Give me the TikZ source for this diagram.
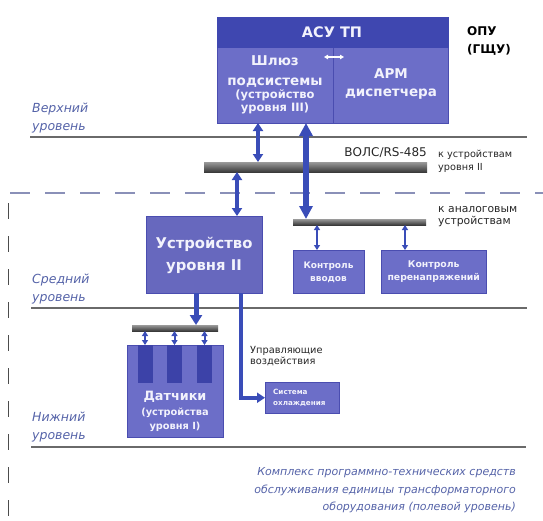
\documentclass[tikz,border=0pt]{standalone}
\usepackage{fontspec}
\setmainfont{DejaVu Sans}
\usetikzlibrary{arrows.meta,calc}
\definecolor{hdrc}{HTML}{3F47B0}
\definecolor{boxc}{HTML}{6C6EC8}
\definecolor{boxd}{HTML}{4A4DB0}
\definecolor{arrc}{HTML}{3A4DB8}
\definecolor{lblc}{HTML}{5563A8}
\definecolor{txtw}{HTML}{F2F2FC}
\definecolor{colc}{HTML}{3C42A8}
\definecolor{dashc}{HTML}{8A90B8}
\definecolor{barT}{HTML}{9A9A9A}
\definecolor{barB}{HTML}{3A3A3A}
\definecolor{linec}{HTML}{6A6A6A}
\begin{document}
\begin{tikzpicture}[x=1pt,y=-1pt,
  blk/.style={fill=boxc, draw=boxd, line width=0.8, inner sep=0, outer sep=0, anchor=north west},
  busbar/.style={top color=barT, bottom color=barB, draw=none, inner sep=0, outer sep=0, anchor=north west},
  colblk/.style={fill=colc, inner sep=0, outer sep=0, anchor=north west, minimum width=15, minimum height=38},
  wtxt/.style={text=txtw, font=\bfseries, align=center, inner sep=0},
  lvl/.style={text=lblc, align=left, anchor=west, inner sep=0, font=\itshape\fontsize{12.5}{18}\selectfont},
  blktxt/.style={text=black!85, align=left, anchor=west, inner sep=0},
  lvline/.style={draw=linec, line width=1.3},
  bigarr/.style={draw=arrc, line width=4, {Triangle[width=10,length=8]}-{Triangle[width=10,length=8]}},
  hugearr/.style={draw=arrc, line width=6, {Triangle[width=13,length=13]}-{Triangle[width=13,length=13]}},
  thinarr/.style={draw=arrc, line width=2.5, {Triangle[width=6,length=5]}-{Triangle[width=6,length=5]}},
  downarr/.style={draw=arrc, line width=5, -{Triangle[width=12,length=10]}},
  ctrlarr/.style={draw=arrc, line width=4, -{Triangle[width=10,length=8]}},
]
\useasboundingbox (0,0) rectangle (543,520);

% ---------- level lines and dashed border
\coordinate (l1a) at (30,137); \coordinate (l1b) at (527,137);
\coordinate (l2a) at (31,308); \coordinate (l2b) at (527,308);
\coordinate (l3a) at (31,447); \coordinate (l3b) at (526,447);
\draw[lvline] (l1a) -- (l1b);
\draw[lvline] (l2a) -- (l2b);
\draw[lvline] (l3a) -- (l3b);
\coordinate (dha) at (10,193); \coordinate (dhb) at (543,193);
\coordinate (dva) at (8.5,203); \coordinate (dvb) at (8.5,520);
\draw[dashc, line width=1.5, dash pattern=on 20 off 15] (dha) -- (dhb);
\draw[black!70, line width=1.2, dash pattern=on 16 off 17] (dva) -- (dvb);

% ---------- top box
\node[blk, minimum width=116, minimum height=76] (shluz) at (217,47) {};
\node[blk, minimum width=115, minimum height=76] (arm) at (333,47) {};
\node[blk, fill=hdrc, draw=hdrc, minimum width=231, minimum height=30] (hdr) at (217,17) {};
\node[wtxt, font=\bfseries\fontsize{14.5}{17}\selectfont] (hdrt) at (332,32) {АСУ ТП};
\node[wtxt, font=\bfseries\fontsize{13.5}{20}\selectfont] (sh1) at (275,72) {Шлюз\\подсистемы};
\node[wtxt, font=\bfseries\fontsize{11.5}{13}\selectfont] (sh2) at (275,102) {(устройство\\уровня III)};
\node[wtxt, font=\bfseries\fontsize{13.5}{18}\selectfont] (armt) at (391,84) {АРМ\\диспетчера};
\coordinate (wa) at (324,57); \coordinate (wb) at (344,57);
\draw[white, line width=1.5, {Triangle[width=4.5,length=4]}-{Triangle[width=4.5,length=4]}] (wa) -- (wb);
\node[blktxt, text=black, font=\bfseries\fontsize{12}{18}\selectfont] (opu) at (467,41) {ОПУ\\(ГЩУ)};

% ---------- level labels
\node[lvl] (lv1) at (32,118) {Верхний\\уровень};
\node[lvl] (lv2) at (32,289.5) {Средний\\уровень};
\node[lvl] (lv3) at (32,427.5) {Нижний\\уровень};

% ---------- bus 1
\node[busbar, minimum width=223, minimum height=10] (bus1) at (204,162) {};
\node[blktxt, anchor=east, font=\fontsize{12}{14}\selectfont] (volst) at (427,153) {ВОЛС/RS-485};
\node[blktxt, font=\fontsize{9.7}{13}\selectfont] (kust) at (438,161) {к устройствам\\уровня II};

% ---------- bus 2
\node[busbar, minimum width=133, minimum height=6] (bus2) at (293,219) {};
\node[blktxt, font=\fontsize{10.8}{12.5}\selectfont] (kanal) at (438,216.5) {к аналоговым\\устройствам};

% ---------- level II device and controls
\node[blk, fill=boxc!95!black, minimum width=116, minimum height=77] (dev2) at (146,216) {};
\node[wtxt, font=\bfseries\fontsize{14.8}{22}\selectfont] (dev2t) at (204,255.5) {Устройство\\уровня II};
\node[blk, minimum width=71, minimum height=43.5] (kv) at (293,250) {};
\node[wtxt, font=\bfseries\fontsize{9}{13}\selectfont] (kvt) at (328.5,272) {Контроль\\вводов};
\node[blk, minimum width=105.5, minimum height=43.5] (kp) at (381,250) {};
\node[wtxt, font=\bfseries\fontsize{9.3}{13}\selectfont] (kpt) at (433.75,272) {Контроль\\перенапряжений};

% ---------- sensors
\node[busbar, minimum width=86, minimum height=6] (sbus) at (132,325) {};
\node[blk, minimum width=96, minimum height=92] (sens) at (127,345) {};
\node[colblk] (c1) at (137.5,345) {};
\node[colblk] (c2) at (167,345) {};
\node[colblk] (c3) at (197,345) {};
\node[wtxt, font=\bfseries\fontsize{12.8}{16}\selectfont] (senst) at (175,397) {Датчики};
\node[wtxt, font=\bfseries\fontsize{9.8}{14}\selectfont] (senst2) at (175,420) {(устройства\\уровня I)};

% ---------- cooling
\node[blk, minimum width=74, minimum height=31.5] (cool) at (265,382) {};
\node[wtxt, font=\bfseries\fontsize{7.2}{11}\selectfont, align=left, anchor=west] (coolt) at (273,397.5) {Система\\охлаждения};
\node[blktxt, font=\fontsize{9.8}{11}\selectfont] (upr) at (250,356.5) {Управляющие\\воздействия};

% ---------- connectors
\coordinate (x258) at (258,0);
\coordinate (x237) at (237,0);
\coordinate (x306) at (306,0);
\coordinate (x317) at (317,0);
\coordinate (x405) at (405,0);
\coordinate (x196) at (196,0);
\coordinate (x241) at (241,0);
\coordinate (x144) at (145,0);
\coordinate (x174) at (174.5,0);
\coordinate (x204) at (204.5,0);
\draw[bigarr] (shluz.south -| x258) -- (bus1.north -| x258);
\draw[bigarr] (bus1.south -| x237) -- (dev2.north -| x237);
\draw[hugearr] (shluz.south -| x306) -- (bus2.north -| x306);
\draw[thinarr] (bus2.south -| x317) -- (kv.north -| x317);
\draw[thinarr] (bus2.south -| x405) -- (kp.north -| x405);
\draw[downarr] (dev2.south -| x196) -- (sbus.north -| x196);
\draw[ctrlarr] (dev2.south -| x241) |- (cool.west);
\draw[thinarr, line width=2] (sbus.south -| x144) -- (sens.north -| x144);
\draw[thinarr, line width=2] (sbus.south -| x174) -- (sens.north -| x174);
\draw[thinarr, line width=2] (sbus.south -| x204) -- (sens.north -| x204);

% ---------- bottom text
\node[text=lblc, align=right, anchor=east, inner sep=0, font=\itshape\fontsize{11}{17.5}\selectfont] (bott) at (516,490.5) {Комплекс программно-технических средств\\обслуживания единицы трансформаторного\\оборудования (полевой уровень)};
\end{tikzpicture}
\end{document}
